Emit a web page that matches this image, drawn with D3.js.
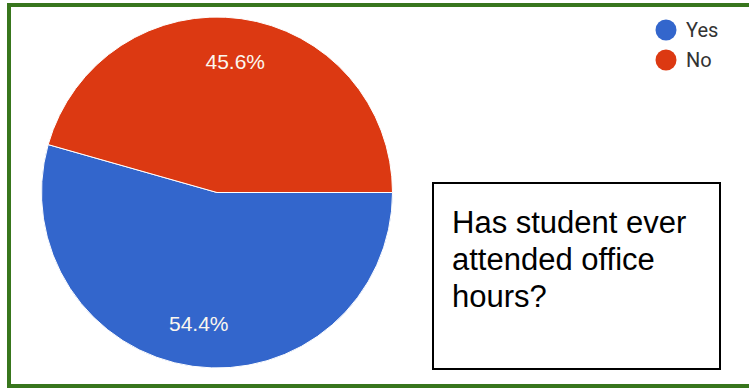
<!DOCTYPE html>
<html>
<head>
<meta charset="utf-8">
<script src="https://cdn.jsdelivr.net/npm/d3@7"></script>
<style>
  html, body { margin: 0; padding: 0; background: #fff; }
  svg { display: block; }
</style>
</head>
<body>
<svg id="chart" width="749" height="392"></svg>
<script>
const categories = ["Yes", "No"];
const values = [54.4, 45.6];
const labels = ["54.4%", "45.6%"];
const colors = ["#3366cc", "#dc3912"];
const noteLines = ["Has student ever", "attended office", "hours?"];

const svg = d3.select("#chart");

// green frame
svg.append("rect")
  .attr("x", 9).attr("y", 5)
  .attr("width", 760).attr("height", 381)
  .attr("fill", "none")
  .attr("stroke", "#38761d")
  .attr("stroke-width", 4);

const cx = 217, cy = 192.5, r = 175.5;
const g = svg.append("g").attr("transform", `translate(${cx},${cy})`);

const pie = d3.pie().sort(null).value(d => d)
  .startAngle(Math.PI / 2).endAngle(Math.PI / 2 + 2 * Math.PI);
const arcs = pie(values);
const arc = d3.arc().innerRadius(0).outerRadius(r);
const labelArc = d3.arc().innerRadius(r * 0.755).outerRadius(r * 0.755);

g.selectAll("path.slice").data(arcs).join("path")
  .attr("class", "slice")
  .attr("d", arc)
  .attr("fill", (d, i) => colors[i])
  .attr("stroke", "#fff")
  .attr("stroke-width", 1);

g.selectAll("text.lbl").data(arcs).join("text")
  .attr("class", "lbl")
  .attr("transform", d => `translate(${labelArc.centroid(d)})`)
  .attr("text-anchor", "middle")
  .attr("dy", "0.36em")
  .attr("font-family", "Arial, 'Liberation Sans', sans-serif")
  .attr("font-size", 21)
  .attr("fill", "#fbf7ee")
  .text((d, i) => labels[i]);

// legend
const legend = svg.append("g");
const ly = d3.scalePoint().domain(categories).range([30, 60]);
legend.selectAll("circle").data(categories).join("circle")
  .attr("cx", 666).attr("cy", d => ly(d)).attr("r", 10.5)
  .attr("fill", (d, i) => colors[i]);
legend.selectAll("text").data(categories).join("text")
  .attr("x", 686).attr("y", d => ly(d))
  .attr("dy", "0.36em")
  .attr("font-family", "Roboto, Arial, sans-serif")
  .attr("font-size", 20)
  .attr("fill", "#333")
  .text(d => d);

// note box
svg.append("rect")
  .attr("x", 433).attr("y", 183)
  .attr("width", 287).attr("height", 186)
  .attr("fill", "#fff")
  .attr("stroke", "#000")
  .attr("stroke-width", 2);

svg.append("g").selectAll("text").data(noteLines).join("text")
  .attr("x", 452)
  .attr("y", (d, i) => 233 + i * 37.2)
  .attr("font-family", "Arial, 'Liberation Sans', sans-serif")
  .attr("font-size", 31)
  .attr("fill", "#000")
  .text(d => d);
</script>
</body>
</html>
